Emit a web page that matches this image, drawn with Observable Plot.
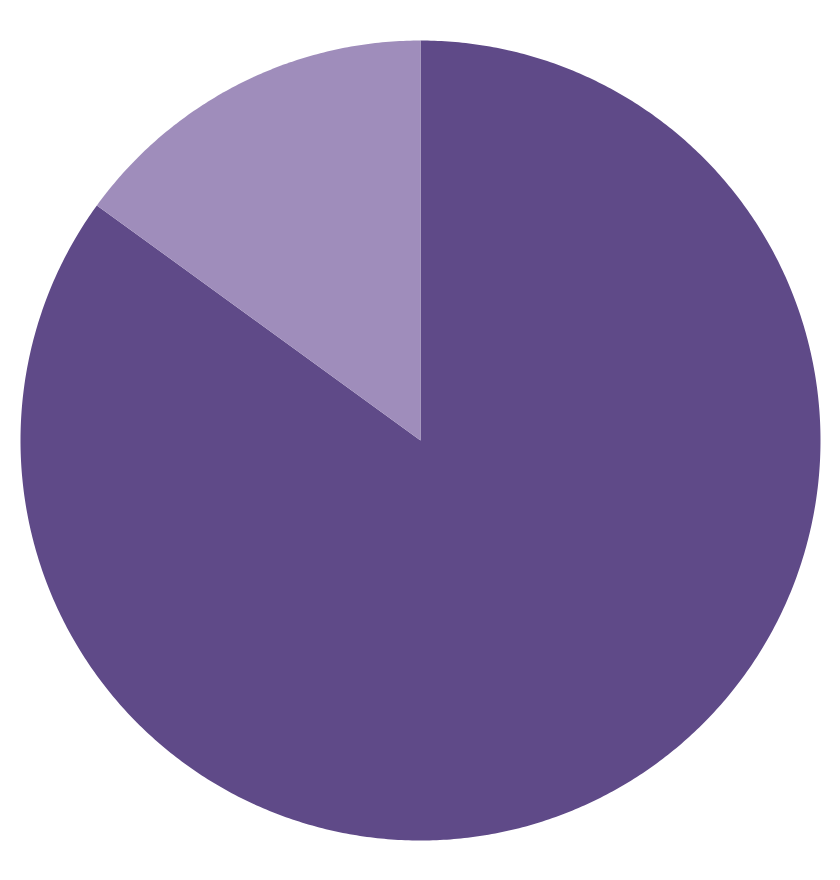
<!DOCTYPE html>
<html>
<head>
<meta charset="utf-8">
<script src="https://cdn.jsdelivr.net/npm/d3@7"></script>
<script src="https://cdn.jsdelivr.net/npm/@observablehq/plot@0.6"></script>
<style>
  html, body { margin: 0; padding: 0; background: #ffffff; }
</style>
</head>
<body>
<div id="chart"></div>
<script>
// Data
const categories = ["Share A", "Share B"];
const values = [85, 15];
const colors = ["#5F4A88", "#9F8DBB"];

// Build slice geometries from the data (angles clockwise from 12 o'clock)
const pie = d3.pie().sort(null).value(d => d.value);
const rows = categories.map((c, i) => ({category: c, value: values[i]}));
const arcs = pie(rows);

function slicePolygon(a0, a1) {
  const pts = [[0, 0]];
  const n = Math.max(2, Math.ceil((a1 - a0) / (Math.PI / 360)));
  for (let k = 0; k <= n; ++k) {
    const a = a0 + (a1 - a0) * k / n;
    pts.push([Math.sin(a), -Math.cos(a)]);
  }
  pts.push([0, 0]);
  return pts;
}

const features = arcs.map(a => ({
  type: "Feature",
  properties: {category: a.data.category, value: a.data.value},
  geometry: {type: "Polygon", coordinates: [slicePolygon(a.startAngle, a.endAngle)]}
}));

const outline = {type: "Polygon", coordinates: [slicePolygon(0, 2 * Math.PI)]};

const chart = Plot.plot({
  width: 840,
  height: 880,
  margin: 0,
  inset: 20,
  style: {background: "transparent"},
  projection: {type: "identity", domain: outline},
  color: {domain: categories, range: colors},
  marks: [
    Plot.geo(features, {fill: d => d.properties.category, stroke: "none"})
  ]
});
document.getElementById("chart").appendChild(chart);
</script>
</body>
</html>
